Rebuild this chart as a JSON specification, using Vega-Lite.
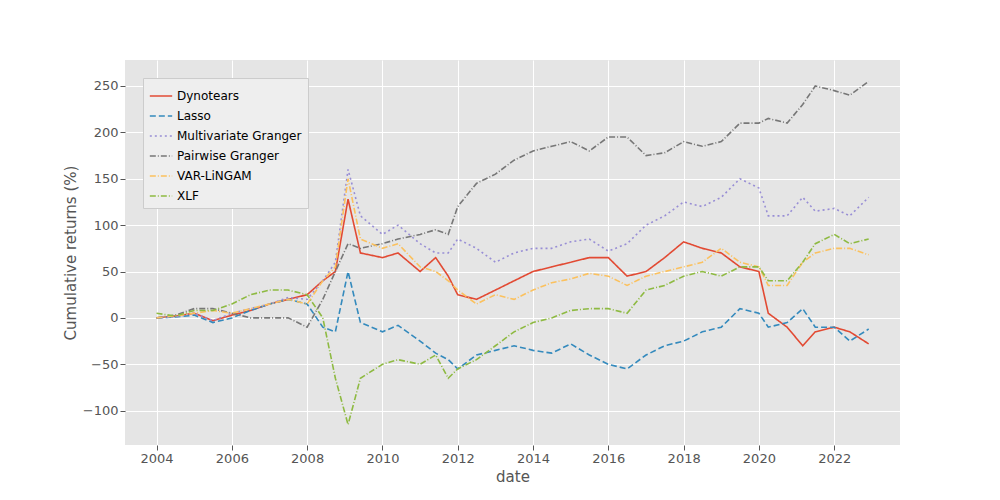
{
"$schema": "https://vega.github.io/schema/vega-lite/v6.json",
"width": 775, "height": 385,
"autosize": "none",
"padding": {"left": 125, "top": 60, "right": 100, "bottom": 55},
"background": "white",
"config": {"view": {"fill": "#E5E5E5", "stroke": null}, "font": "DejaVu Sans",
 "axis": {"grid": true, "gridColor": "white", "gridWidth": 1, "domain": false, "tickColor": "#555", "labelColor": "#555", "labelFontSize": 13, "titleFontSize": 15, "titleColor": "#555", "titleFontWeight": "normal"}},
"data": {"values": [
{"date":"2004-01","Dynotears":0,"Lasso":0,"Multivariate Granger":0,"Pairwise Granger":0,"VAR-LiNGAM":0,"XLF":5},
{"date":"2004-07","Dynotears":2,"Lasso":1,"Multivariate Granger":1,"Pairwise Granger":3,"VAR-LiNGAM":2,"XLF":2},
{"date":"2005-01","Dynotears":5,"Lasso":3,"Multivariate Granger":5,"Pairwise Granger":10,"VAR-LiNGAM":5,"XLF":8},
{"date":"2005-07","Dynotears":-3,"Lasso":-5,"Multivariate Granger":-3,"Pairwise Granger":10,"VAR-LiNGAM":8,"XLF":8},
{"date":"2006-01","Dynotears":3,"Lasso":0,"Multivariate Granger":5,"Pairwise Granger":5,"VAR-LiNGAM":5,"XLF":15},
{"date":"2006-07","Dynotears":8,"Lasso":8,"Multivariate Granger":10,"Pairwise Granger":0,"VAR-LiNGAM":10,"XLF":25},
{"date":"2007-01","Dynotears":15,"Lasso":15,"Multivariate Granger":15,"Pairwise Granger":0,"VAR-LiNGAM":15,"XLF":30},
{"date":"2007-07","Dynotears":20,"Lasso":20,"Multivariate Granger":22,"Pairwise Granger":0,"VAR-LiNGAM":20,"XLF":30},
{"date":"2008-01","Dynotears":25,"Lasso":15,"Multivariate Granger":20,"Pairwise Granger":-10,"VAR-LiNGAM":15,"XLF":25},
{"date":"2008-06","Dynotears":40,"Lasso":-10,"Multivariate Granger":40,"Pairwise Granger":20,"VAR-LiNGAM":40,"XLF":0},
{"date":"2008-10","Dynotears":50,"Lasso":-15,"Multivariate Granger":60,"Pairwise Granger":50,"VAR-LiNGAM":55,"XLF":-65},
{"date":"2009-02","Dynotears":128,"Lasso":50,"Multivariate Granger":160,"Pairwise Granger":80,"VAR-LiNGAM":150,"XLF":-115},
{"date":"2009-06","Dynotears":70,"Lasso":-5,"Multivariate Granger":110,"Pairwise Granger":75,"VAR-LiNGAM":85,"XLF":-65},
{"date":"2010-01","Dynotears":65,"Lasso":-15,"Multivariate Granger":90,"Pairwise Granger":80,"VAR-LiNGAM":75,"XLF":-50},
{"date":"2010-06","Dynotears":70,"Lasso":-8,"Multivariate Granger":100,"Pairwise Granger":85,"VAR-LiNGAM":80,"XLF":-45},
{"date":"2011-01","Dynotears":50,"Lasso":-25,"Multivariate Granger":80,"Pairwise Granger":90,"VAR-LiNGAM":55,"XLF":-50},
{"date":"2011-06","Dynotears":65,"Lasso":-38,"Multivariate Granger":70,"Pairwise Granger":95,"VAR-LiNGAM":50,"XLF":-40},
{"date":"2011-10","Dynotears":45,"Lasso":-45,"Multivariate Granger":70,"Pairwise Granger":90,"VAR-LiNGAM":40,"XLF":-65},
{"date":"2012-01","Dynotears":25,"Lasso":-55,"Multivariate Granger":85,"Pairwise Granger":120,"VAR-LiNGAM":30,"XLF":-55},
{"date":"2012-07","Dynotears":20,"Lasso":-40,"Multivariate Granger":75,"Pairwise Granger":145,"VAR-LiNGAM":15,"XLF":-45},
{"date":"2013-01","Dynotears":30,"Lasso":-35,"Multivariate Granger":60,"Pairwise Granger":155,"VAR-LiNGAM":25,"XLF":-30},
{"date":"2013-07","Dynotears":40,"Lasso":-30,"Multivariate Granger":70,"Pairwise Granger":170,"VAR-LiNGAM":20,"XLF":-15},
{"date":"2014-01","Dynotears":50,"Lasso":-35,"Multivariate Granger":75,"Pairwise Granger":180,"VAR-LiNGAM":30,"XLF":-5},
{"date":"2014-07","Dynotears":55,"Lasso":-38,"Multivariate Granger":75,"Pairwise Granger":185,"VAR-LiNGAM":38,"XLF":0},
{"date":"2015-01","Dynotears":60,"Lasso":-28,"Multivariate Granger":82,"Pairwise Granger":190,"VAR-LiNGAM":42,"XLF":8},
{"date":"2015-07","Dynotears":65,"Lasso":-40,"Multivariate Granger":85,"Pairwise Granger":180,"VAR-LiNGAM":48,"XLF":10},
{"date":"2016-01","Dynotears":65,"Lasso":-50,"Multivariate Granger":72,"Pairwise Granger":195,"VAR-LiNGAM":45,"XLF":10},
{"date":"2016-07","Dynotears":45,"Lasso":-55,"Multivariate Granger":80,"Pairwise Granger":195,"VAR-LiNGAM":35,"XLF":5},
{"date":"2017-01","Dynotears":50,"Lasso":-40,"Multivariate Granger":100,"Pairwise Granger":175,"VAR-LiNGAM":45,"XLF":30},
{"date":"2017-07","Dynotears":65,"Lasso":-30,"Multivariate Granger":110,"Pairwise Granger":178,"VAR-LiNGAM":50,"XLF":35},
{"date":"2018-01","Dynotears":82,"Lasso":-25,"Multivariate Granger":125,"Pairwise Granger":190,"VAR-LiNGAM":55,"XLF":45},
{"date":"2018-07","Dynotears":75,"Lasso":-15,"Multivariate Granger":120,"Pairwise Granger":185,"VAR-LiNGAM":60,"XLF":50},
{"date":"2019-01","Dynotears":70,"Lasso":-10,"Multivariate Granger":130,"Pairwise Granger":190,"VAR-LiNGAM":75,"XLF":45},
{"date":"2019-07","Dynotears":55,"Lasso":10,"Multivariate Granger":150,"Pairwise Granger":210,"VAR-LiNGAM":60,"XLF":55},
{"date":"2020-01","Dynotears":50,"Lasso":5,"Multivariate Granger":140,"Pairwise Granger":210,"VAR-LiNGAM":55,"XLF":55},
{"date":"2020-04","Dynotears":5,"Lasso":-10,"Multivariate Granger":110,"Pairwise Granger":215,"VAR-LiNGAM":35,"XLF":40},
{"date":"2020-10","Dynotears":-10,"Lasso":-5,"Multivariate Granger":110,"Pairwise Granger":210,"VAR-LiNGAM":35,"XLF":40},
{"date":"2021-03","Dynotears":-30,"Lasso":10,"Multivariate Granger":130,"Pairwise Granger":230,"VAR-LiNGAM":60,"XLF":60},
{"date":"2021-07","Dynotears":-15,"Lasso":-10,"Multivariate Granger":115,"Pairwise Granger":250,"VAR-LiNGAM":70,"XLF":80},
{"date":"2022-01","Dynotears":-10,"Lasso":-10,"Multivariate Granger":118,"Pairwise Granger":245,"VAR-LiNGAM":75,"XLF":90},
{"date":"2022-06","Dynotears":-15,"Lasso":-25,"Multivariate Granger":110,"Pairwise Granger":240,"VAR-LiNGAM":75,"XLF":80},
{"date":"2022-12","Dynotears":-28,"Lasso":-12,"Multivariate Granger":130,"Pairwise Granger":255,"VAR-LiNGAM":68,"XLF":85}
]},
"transform": [{"fold": ["Dynotears","Lasso","Multivariate Granger","Pairwise Granger","VAR-LiNGAM","XLF"], "as": ["model","value"]}],
"mark": {"type": "line", "strokeWidth": 1.6},
"encoding": {
 "x": {"field": "date", "type": "temporal", "title": "date",
  "scale": {"domain": [{"year":2003,"month":3},{"year":2023,"month":10}]},
  "axis": {"values": [{"year":2004},{"year":2006},{"year":2008},{"year":2010},{"year":2012},{"year":2014},{"year":2016},{"year":2018},{"year":2020},{"year":2022}], "format": "%Y"}},
 "y": {"field": "value", "type": "quantitative", "title": "Cumulative returns (%)",
  "scale": {"domain": [-137, 278], "nice": false},
  "axis": {"values": [-100,-50,0,50,100,150,200,250]}},
 "color": {"field": "model", "type": "nominal", "title": null,
  "scale": {"domain": ["Dynotears","Lasso","Multivariate Granger","Pairwise Granger","VAR-LiNGAM","XLF"], "range": ["#E24A33","#348ABD","#988ED5","#777777","#FBC15E","#8EBA42"]},
  "legend": {"orient": "top-left", "fillColor": "#EEEEEE", "strokeColor": "#CCCCCC", "padding": 6, "labelFontSize": 12, "labelColor": "black", "symbolType": "stroke", "symbolSize": 500, "symbolStrokeWidth": 1.6}},
 "strokeDash": {"field": "model", "type": "nominal", "legend": null,
  "scale": {"domain": ["Dynotears","Lasso","Multivariate Granger","Pairwise Granger","VAR-LiNGAM","XLF"], "range": [[1,0],[6,3],[2,3],[6,2,1,2],[6,2,1,2],[6,2,1,2]]}}
}
}
